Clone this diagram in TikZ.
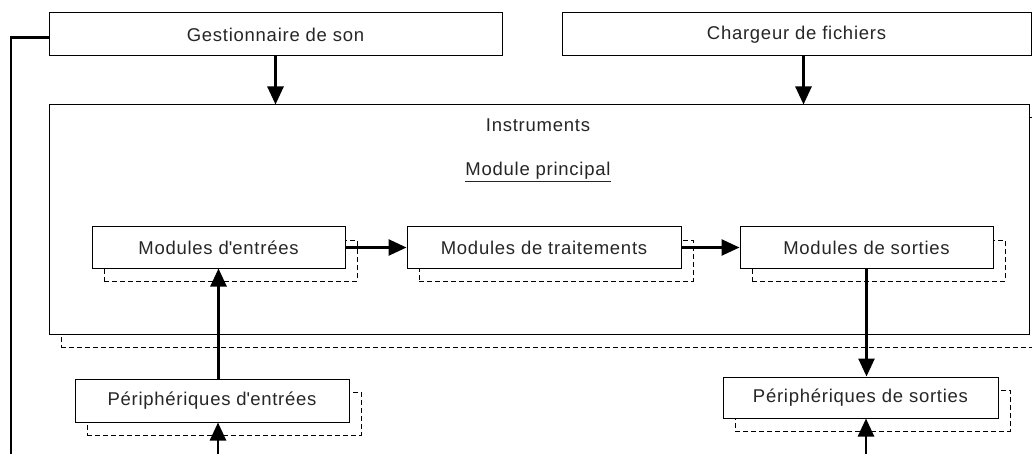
\documentclass[tikz,border=0pt]{standalone}
\usepackage{fontspec}
\setmainfont{Liberation Sans}[LetterSpace=4]
\usetikzlibrary{arrows.meta,shadows,positioning}

\tikzset{
  bloc/.style={draw=black, line width=1pt, fill=white, inner sep=0pt, text=black!85},
  ombre/.style={copy shadow={shadow xshift=12pt, shadow yshift=-13pt, draw=black, line width=1pt, dash pattern=on 5pt off 3pt, fill=white}},
  fleche/.style={line width=2.6pt, -{Triangle[length=18pt,width=16pt]}},
}

\begin{document}
\begin{tikzpicture}[x=1pt, y=-1pt, font=\fontsize{18.5}{22}\selectfont]
\useasboundingbox (0,0) rectangle (1032,454);
\clip (0,0) rectangle (1032,454);

% en haut
\node[bloc, minimum width=453pt, minimum height=43pt] (gest) at (275.5,34.5) {Gestionnaire de son};
\node[bloc, minimum width=469pt, minimum height=43pt] (charg) at (796.5,34.5) {Chargeur de fichiers};

% instruments
\node[bloc, ombre, minimum width=980pt, minimum height=229pt] (instr) at (539,219.5) {};
\node[text=black!85] (instrlbl) at (538,125) {Instruments};
\node[text=black!85] (modprinc) at (538,172) {\underline{Module principal}};

\node[bloc, ombre, minimum width=253pt, minimum height=41pt] (entrees) at (218.5,247.5) {Modules d\textquotesingle entrées};
\node[bloc, ombre, minimum width=274pt, minimum height=41pt] (traitements) at (544,247.5) {Modules de traitements};
\node[bloc, ombre, minimum width=253pt, minimum height=41pt] (sorties) at (866.5,247.5) {Modules de sorties};

% peripheriques
\node[bloc, ombre, minimum width=274pt, minimum height=43pt] (perifin) at (212,400.5) {Périphériques d\textquotesingle entrées};
\node[bloc, ombre, minimum width=275pt, minimum height=41pt] (perifout) at (860.5,397.5) {Périphériques de sorties};

\coordinate (basin) at (218,470);
\coordinate (basout) at (866,470);
\coordinate (retour) at (11,470);

\draw[fleche] (gest.south) -- (gest.south |- instr.north);
\draw[fleche] ([xshift=7pt]charg.south) -- ([xshift=7pt]charg.south |- instr.north);
\draw[fleche] (entrees.east) -- (traitements.west);
\draw[fleche] (traitements.east) -- (sorties.west);
\draw[fleche] (sorties.south) -- (sorties.south |- perifout.north);
\draw[fleche] (entrees.south |- perifin.north) -- (entrees.south);
\draw[fleche] (basin) -- (basin |- perifin.south);
\draw[fleche] (basout) -- (basout |- perifout.south);
\draw[line width=2.6pt] ([yshift=-3pt]gest.west) -| (retour);
\end{tikzpicture}
\end{document}
